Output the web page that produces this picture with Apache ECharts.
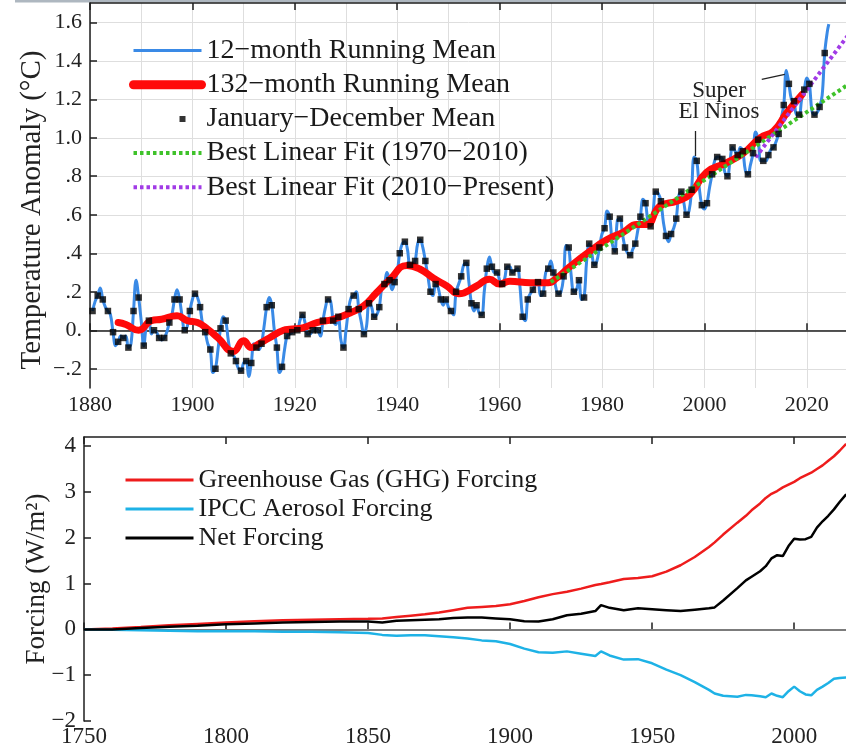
<!DOCTYPE html>
<html><head><meta charset="utf-8">
<script src="https://cdn.jsdelivr.net/npm/echarts@6/dist/echarts.min.js"></script>
<style>html,body{margin:0;padding:0;background:#fff}#c{width:846px;height:748px}</style>
</head><body><div id="c"></div>
<script>
const FONT = '"Liberation Serif","Times New Roman",serif';

// ---------- Top panel: global temperature anomaly (°C) ----------
const annualStartYear = 1880; // January–December means plotted at mid-year
const annualMeans = [
  0.10,0.18,0.16,0.10,-0.01,-0.06,-0.04,-0.09,0.10,0.17,
  -0.08,0.05,0.00,-0.04,-0.04,0.04,0.16,0.16,0.00,0.10,
  0.19,0.12,-0.01,-0.10,-0.20,0.01,0.05,-0.12,-0.16,-0.21,
  -0.16,-0.17,-0.09,-0.07,0.12,0.13,-0.09,-0.19,-0.03,-0.01,
  0.00,0.08,-0.02,0.00,0.00,0.05,0.16,0.05,0.07,-0.09,
  0.11,0.18,0.11,-0.02,0.14,0.07,0.12,0.24,0.26,0.25,
  0.40,0.46,0.34,0.36,0.47,0.36,0.20,0.24,0.16,0.16,
  0.10,0.20,0.28,0.35,0.14,0.13,0.08,0.32,0.33,0.30,
  0.24,0.33,0.30,0.32,0.07,0.16,0.21,0.25,0.19,0.32,
  0.30,0.19,0.28,0.43,0.20,0.26,0.17,0.45,0.34,0.43,
  0.53,0.59,0.41,0.58,0.43,0.39,0.45,0.59,0.66,0.54,
  0.72,0.67,0.49,0.50,0.58,0.72,0.60,0.73,0.88,0.65,
  0.66,0.81,0.90,0.89,0.80,0.95,0.91,0.93,0.81,0.92,
  0.99,0.88,0.91,0.95,1.02,1.17,1.28,1.19,1.12,1.25,
  1.28,1.12,1.16,1.44
];
// 12-month running mean read at the turn of each year (1881.0 ... 2024.0)
const run12StartYear = 1881;
const run12YearTurn = [
  0.15,0.22,0.12,0.08,-0.08,-0.03,-0.03,-0.07,0.26,0.05,
  0.02,-0.02,-0.01,-0.05,-0.01,0.08,0.21,0.07,0.02,0.16,
  0.17,0.03,-0.07,-0.22,-0.10,0.07,-0.05,-0.13,-0.20,-0.17,
  -0.24,-0.07,-0.10,0.02,0.17,0.00,-0.22,-0.10,-0.02,0.01,
  0.05,0.04,-0.02,0.01,-0.03,0.12,0.15,0.03,-0.05,0.00,
  0.17,0.20,0.04,0.02,0.12,0.08,0.22,0.30,0.21,0.30,
  0.45,0.42,0.34,0.45,0.43,0.28,0.18,0.22,0.13,0.12,
  0.08,0.24,0.34,0.25,0.10,0.09,0.20,0.38,0.30,0.26,
  0.27,0.33,0.31,0.22,0.05,0.19,0.24,0.18,0.30,0.36,
  0.22,0.20,0.44,0.28,0.21,0.16,0.36,0.40,0.36,0.50,
  0.62,0.45,0.57,0.50,0.40,0.42,0.52,0.68,0.56,0.62,
  0.71,0.56,0.46,0.53,0.70,0.66,0.62,0.90,0.74,0.63,
  0.74,0.88,0.90,0.82,0.88,0.93,0.95,0.83,0.86,1.03,
  0.88,0.88,0.94,0.98,1.10,1.35,1.20,1.12,1.20,1.31,
  1.14,1.13,1.22,1.55
];
const run12TailYears = [2024.3];
const run12TailVals = [1.59];

const run132Years = [1885.5,1887,1889.5,1892,1894,1897,1899,1901,1903,1905,1908,1910,1911.5,1913,1915,1917.8,1919,1921.7,1924.3,1927.5,1930.8,1933.4,1936,1938.6,1941.9,1944.5,1947.1,1949.7,1952,1955.5,1958,1960,1962,1966,1969.5,1971.1,1973.7,1977.6,1980.9,1984.2,1986.8,1988.7,1991.3,1994.6,1997.2,2000.4,2004.3,2007.6,2010.9,2013.5,2016.1,2019.1];
const run132Vals = [0.04,0.03,0.00,0.05,0.057,0.075,0.05,0.04,0.005,-0.04,-0.11,-0.055,-0.09,-0.07,-0.04,0.00,0.005,0.014,0.04,0.057,0.09,0.126,0.196,0.265,0.337,0.317,0.27,0.23,0.19,0.23,0.265,0.24,0.255,0.247,0.247,0.27,0.33,0.41,0.47,0.51,0.55,0.55,0.645,0.67,0.706,0.82,0.87,0.92,1.00,1.035,1.13,1.225];

const fit1970Years = [1970, 2030];
const fit1970Vals = [0.25, 1.31];
const fit2010Years = [2010, 2030];
const fit2010Vals = [0.898, 1.60];

const tempYTicks = [-0.2,0,0.2,0.4,0.6,0.8,1.0,1.2,1.4,1.6];

// annotation anchors (data coordinates)
const ninoTextAt = [2002.85, 1.19];
const ninoArrow1 = [[1998.2, 1.035], [1998.2, 0.905]];
const ninoArrow2 = [[2011.2, 1.303], [2015.7, 1.329]];

// ---------- Bottom panel: forcings (W/m²) ----------
const forcingYears = [1750,1760,1770,1780,1790,1800,1810,1820,1830,1840,1850,1855,1860,1865,1870,1875,1880,1885,1890,1895,1900,1905,1910,1915,1920,1925,1930,1932,1935,1940,1945,1950,1955,1960,1965,1970,1972,1975,1980,1983,1985,1988,1990,1992,1994,1996,1998,2000,2002,2004,2006,2008,2010,2012,2014,2016,2018.3];
const ghgForcing = [0,0.02,0.05,0.09,0.12,0.15,0.18,0.20,0.21,0.22,0.23,0.24,0.27,0.30,0.33,0.37,0.42,0.47,0.49,0.51,0.55,0.62,0.70,0.77,0.82,0.89,0.97,0.99,1.03,1.10,1.12,1.16,1.26,1.40,1.58,1.80,1.90,2.07,2.33,2.48,2.60,2.75,2.87,2.96,3.02,3.10,3.16,3.22,3.30,3.36,3.42,3.50,3.58,3.68,3.78,3.90,4.05];
const aerosolForcing = [0,-0.01,-0.02,-0.03,-0.04,-0.04,-0.04,-0.05,-0.05,-0.06,-0.08,-0.12,-0.14,-0.13,-0.13,-0.15,-0.17,-0.20,-0.24,-0.26,-0.32,-0.42,-0.50,-0.51,-0.48,-0.53,-0.58,-0.48,-0.57,-0.66,-0.65,-0.74,-0.88,-1.00,-1.15,-1.32,-1.40,-1.45,-1.47,-1.43,-1.44,-1.46,-1.48,-1.40,-1.45,-1.48,-1.35,-1.25,-1.35,-1.42,-1.44,-1.32,-1.25,-1.17,-1.08,-1.06,-1.05];
const netForcing = [0,0.00,0.03,0.06,0.08,0.11,0.13,0.15,0.16,0.17,0.17,0.15,0.19,0.20,0.21,0.22,0.25,0.26,0.26,0.24,0.22,0.18,0.17,0.22,0.31,0.34,0.40,0.53,0.47,0.42,0.46,0.44,0.42,0.40,0.43,0.46,0.48,0.63,0.90,1.07,1.15,1.27,1.38,1.55,1.62,1.60,1.82,1.98,1.96,1.97,2.02,2.22,2.36,2.48,2.62,2.78,2.95];
const forcingYTicks = [-2,-1,0,1,2,3,4];

// ---------- build series data ----------
const pairs = (xs, ys) => xs.map((x, i) => [x, ys[i]]);
const annualData = annualMeans.map((v, i) => [annualStartYear + i + 0.5, v]);
const run12Data = annualData.concat(
  run12YearTurn.map((v, i) => [run12StartYear + i, v]),
  pairs(run12TailYears, run12TailVals)
).sort((a, b) => a[0] - b[0]);

const AX = '#1e1e1e';
const GRIDC = '#dedede';
const minus = s => String(s).replace('-', '\u2212');
const tempFmt = v => {
  const r = Math.round(v * 10) / 10;
  if (r === 0) return '0.';
  if (r >= 1) return r.toFixed(1);
  if (r > 0) return '.' + Math.round(r * 10);
  return '\u2212.' + Math.round(-r * 10);
};
const squareIcon = 'path://M0,0L0,0.01M68,8L68,7.99M46,1L52,1L52,7L46,7Z';

const chart = echarts.init(document.getElementById('c'), null, {renderer: 'canvas'});
chart.setOption({
  animation: false,
  backgroundColor: '#ffffff',
  textStyle: {fontFamily: FONT},
  graphic: [{type: 'rect', shape: {x: 15, y: 0, width: 831, height: 2.5}, style: {fill: '#aeb7c0'}, silent: true}],
  grid: [
    {left: 90, top: 3, width: 768, height: 385, outerBoundsMode: 'none', containLabel: false},
    {left: 84, top: 437, width: 767, height: 284, outerBoundsMode: 'none', containLabel: false}
  ],
  legend: [
    {
      orient: 'vertical', left: 129, top: 36.5, padding: 0, itemWidth: 68, itemHeight: 8, itemGap: 6.2,
      selectedMode: false,
      textStyle: {fontFamily: FONT, fontSize: 28, color: '#1a1a1a'},
      data: [
        {name: '12\u2212month Running Mean', itemStyle: {opacity: 0}, lineStyle: {width: 3}},
        {name: '132\u2212month Running Mean', itemStyle: {opacity: 0}, lineStyle: {width: 9}},
        {name: 'January\u2212December Mean', icon: squareIcon},
        {name: 'Best Linear Fit (1970\u22122010)', itemStyle: {opacity: 0}, lineStyle: {width: 4}},
        {name: 'Best Linear Fit (2010\u2212Present)', itemStyle: {opacity: 0}, lineStyle: {width: 4}}
      ]
    },
    {
      orient: 'vertical', left: 124, top: 467, padding: 0, itemWidth: 68, itemHeight: 8, itemGap: 3,
      selectedMode: false,
      textStyle: {fontFamily: FONT, fontSize: 26, color: '#1a1a1a', lineHeight: 26},
      data: [
        {name: 'Greenhouse Gas (GHG) Forcing', itemStyle: {opacity: 0}, lineStyle: {width: 3}},
        {name: 'IPCC Aerosol Forcing', itemStyle: {opacity: 0}, lineStyle: {width: 3}},
        {name: 'Net Forcing', itemStyle: {opacity: 0}, lineStyle: {width: 3}}
      ]
    }
  ],
  xAxis: [
    { // 0: top panel bottom axis
      type: 'value', gridIndex: 0, position: 'bottom', min: 1880, max: 2030, interval: 20,
      axisLine: {lineStyle: {color: AX, width: 1.5}},
      axisTick: {inside: true, length: 7, lineStyle: {color: AX, width: 1.5}},
      axisLabel: {fontFamily: FONT, fontSize: 22, color: '#222', margin: 6, showMaxLabel: false, formatter: v => String(v)},
      splitLine: {show: false}
    },
    { // 1: top panel top border
      type: 'value', gridIndex: 0, position: 'top', min: 1880, max: 2030, interval: 20,
      axisLine: {lineStyle: {color: AX, width: 1.5}},
      axisTick: {inside: true, length: 7, lineStyle: {color: AX, width: 1.5}},
      axisLabel: {show: false}, splitLine: {show: false}
    },
    { // 2: top panel decade grid lines
      type: 'value', gridIndex: 0, position: 'top', min: 1880, max: 2030, interval: 10,
      axisLine: {show: false}, axisTick: {show: false}, axisLabel: {show: false},
      splitLine: {show: true, lineStyle: {color: GRIDC, width: 1}}
    },
    { // 3: bottom panel bottom axis
      type: 'value', gridIndex: 1, position: 'bottom', min: 1750, max: 2020, interval: 50,
      axisLine: {lineStyle: {color: AX, width: 1.5}},
      axisTick: {inside: true, length: 7, lineStyle: {color: AX, width: 1.5}},
      axisLabel: {fontFamily: FONT, fontSize: 23, color: '#222', margin: 4, showMaxLabel: false, formatter: v => String(v)},
      splitLine: {show: false}
    },
    { // 4: bottom panel top border
      type: 'value', gridIndex: 1, position: 'top', min: 1750, max: 2020, interval: 50,
      axisLine: {lineStyle: {color: AX, width: 1.5}},
      axisTick: {inside: true, length: 7, lineStyle: {color: AX, width: 1.5}},
      axisLabel: {show: false}, splitLine: {show: false}
    }
  ],
  yAxis: [
    {
      type: 'value', gridIndex: 0, min: -0.3, max: 1.7,
      name: 'Temperature Anomaly (\u00b0C)    ', nameLocation: 'middle', nameGap: 43, nameMoveOverlap: false,
      nameTextStyle: {fontFamily: FONT, fontSize: 29, color: '#222'},
      axisLine: {show: true, lineStyle: {color: AX, width: 1.5}},
      axisTick: {show: true, inside: true, length: 7, customValues: tempYTicks, lineStyle: {color: AX, width: 1.5}},
      axisLabel: {fontFamily: FONT, fontSize: 22, color: '#222', margin: 8, customValues: tempYTicks, formatter: tempFmt},
      splitLine: {show: true, customValues: tempYTicks, lineStyle: {color: GRIDC, width: 1}}
    },
    {
      type: 'value', gridIndex: 1, min: -2, max: 4.2,
      name: 'Forcing (W/m\u00b2)', nameLocation: 'middle', nameGap: 34, nameMoveOverlap: false,
      nameTextStyle: {fontFamily: FONT, fontSize: 27, color: '#222'},
      axisLine: {show: true, lineStyle: {color: AX, width: 1.5}},
      axisTick: {show: true, inside: true, length: 7, customValues: forcingYTicks, lineStyle: {color: AX, width: 1.5}},
      axisLabel: {fontFamily: FONT, fontSize: 23, color: '#222', margin: 8, customValues: forcingYTicks, formatter: v => minus(v)},
      splitLine: {show: false}
    }
  ],
  series: [
    {
      name: '12\u2212month Running Mean', type: 'line', xAxisIndex: 0, yAxisIndex: 0,
      data: run12Data, symbol: 'none', smooth: 0.4, z: 2,
      lineStyle: {color: '#3a8ae6', width: 3}, itemStyle: {color: '#3a8ae6'}
    },
    {
      name: '132\u2212month Running Mean', type: 'line', xAxisIndex: 0, yAxisIndex: 0,
      data: pairs(run132Years, run132Vals), symbol: 'none', smooth: 0.5, z: 3,
      lineStyle: {color: '#ff0a0a', width: 7, cap: 'round', join: 'round'}, itemStyle: {color: '#ff0a0a'}
    },
    {
      name: 'Best Linear Fit (1970\u22122010)', type: 'line', xAxisIndex: 0, yAxisIndex: 0,
      data: pairs(fit1970Years, fit1970Vals), symbol: 'none', z: 4,
      lineStyle: {color: '#3fc22a', width: 4, type: [3.5, 3]}, itemStyle: {color: '#3fc22a'}
    },
    {
      name: 'Best Linear Fit (2010\u2212Present)', type: 'line', xAxisIndex: 0, yAxisIndex: 0,
      data: pairs(fit2010Years, fit2010Vals), symbol: 'none', z: 4,
      lineStyle: {color: '#a13be6', width: 4, type: [3.5, 3]}, itemStyle: {color: '#a13be6'}
    },
    {
      name: 'January\u2212December Mean', type: 'scatter', xAxisIndex: 0, yAxisIndex: 0,
      data: annualData, symbol: 'rect', symbolSize: 6.5, z: 6,
      itemStyle: {color: '#000'},
      markLine: {
        silent: true, symbol: ['none', 'arrow'], symbolSize: [0, 11],
        lineStyle: {color: '#222', width: 1.3, type: 'solid'},
        label: {show: false},
        data: [
          [{coord: ninoArrow1[0]}, {coord: ninoArrow1[1]}],
          [{coord: ninoArrow2[0]}, {coord: ninoArrow2[1]}]
        ]
      },
      markPoint: {
        silent: true, symbol: 'rect', symbolSize: 1,
        itemStyle: {color: 'rgba(0,0,0,0)'},
        label: {show: true, position: 'inside', formatter: 'Super\nEl Ninos', fontFamily: FONT, fontSize: 23, lineHeight: 21, color: '#222'},
        data: [{coord: ninoTextAt}]
      }
    },
    {
      name: 'Greenhouse Gas (GHG) Forcing', type: 'line', xAxisIndex: 3, yAxisIndex: 1,
      data: pairs(forcingYears, ghgForcing), symbol: 'none', z: 3,
      lineStyle: {color: '#ee1c1c', width: 2.5}, itemStyle: {color: '#ee1c1c'},
      markLine: {
        silent: true, symbol: 'none', z: 1, label: {show: false},
        lineStyle: {color: '#8a8a8a', width: 1.5, type: 'solid'},
        data: [{yAxis: 0}]
      }
    },
    {
      name: 'IPCC Aerosol Forcing', type: 'line', xAxisIndex: 3, yAxisIndex: 1,
      data: pairs(forcingYears, aerosolForcing), symbol: 'none', z: 3,
      lineStyle: {color: '#1eb2e6', width: 2.5}, itemStyle: {color: '#1eb2e6'}
    },
    {
      name: 'Net Forcing', type: 'line', xAxisIndex: 3, yAxisIndex: 1,
      data: pairs(forcingYears, netForcing), symbol: 'none', z: 3,
      lineStyle: {color: '#000', width: 2.5}, itemStyle: {color: '#000'}
    }
  ]
});
</script>
</body></html>
